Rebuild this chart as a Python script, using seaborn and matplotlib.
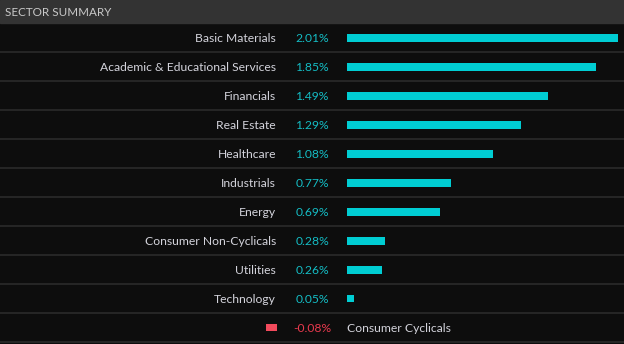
import matplotlib
matplotlib.use("Agg")
import matplotlib.pyplot as plt
import matplotlib.transforms as mtransforms
from matplotlib.patches import Rectangle
from matplotlib.lines import Line2D
import seaborn as sns
import pandas as pd

sectors = [
    "Basic Materials", "Academic & Educational Services", "Financials",
    "Real Estate", "Healthcare", "Industrials", "Energy",
    "Consumer Non-Cyclicals", "Utilities", "Technology", "Consumer Cyclicals",
]
changes = [2.01, 1.85, 1.49, 1.29, 1.08, 0.77, 0.69, 0.28, 0.26, 0.05, -0.08]
title = "SECTOR SUMMARY"

BG = "#0d0d0d"
HEADER = "#333333"
GRID = "#2a2a2a"
UP = "#00cdd3"
UP_TXT = "#14bcc4"
DOWN = "#f24a5c"
DOWN_TXT = "#e8394d"
LABEL = "#d4d4dc"

sns.set_theme(style="dark")
plt.rcParams["font.family"] = ["Lato", "DejaVu Sans"]

W, H = 624, 344
fig = plt.figure(figsize=(W / 100, H / 100), dpi=100, facecolor=BG)

df = pd.DataFrame({"sector": sectors, "change": changes})
pos = df[df.change >= 0]
neg = df[df.change < 0]

px_per_pct = 134.8
top_px, bot_px = 23, 342
fb = (H - bot_px) / H
fh = (bot_px - top_px) / H

# positive bars grow right from a common baseline
x0 = 347
ax = fig.add_axes([x0 / W, fb, (W - x0) / W, fh])
ax.set_facecolor("none")
sns.barplot(data=pos, y="sector", x="change", order=sectors, orient="h",
            color=UP, width=8 / 29, saturation=1, linewidth=0, ax=ax)
ax.set_xlim(0, (W - x0) / px_per_pct)
ax.set_ylim(len(sectors) - 0.5, -0.5)

# negative bars grow left from their own baseline
n0 = 277
nspan = 0.6
axn = fig.add_axes([(n0 - nspan * px_per_pct) / W, fb, nspan * px_per_pct / W, fh])
axn.set_facecolor("none")
sns.barplot(data=neg, y="sector", x="change", order=sectors, orient="h",
            color=DOWN, width=8 / 29, saturation=1, linewidth=0, ax=axn)
axn.set_xlim(-nspan, 0)
axn.set_ylim(len(sectors) - 0.5, -0.5)

for a in (ax, axn):
    a.set_xlabel("")
    a.set_ylabel("")
    a.set_xticks([])
    a.set_yticks([])
    a.grid(False)
    for s in a.spines.values():
        s.set_visible(False)

tr = mtransforms.blended_transform_factory(fig.transFigure, ax.transData)

# header band
fig.patches.append(Rectangle((0, (H - top_px) / H), 1, top_px / H,
                             transform=fig.transFigure, color=HEADER, zorder=0))
fig.text(5 / W, 1 - 12 / H, title, color="#c9c9c9", fontsize=8.4,
         ha="left", va="center")

# row separators
for i in range(len(sectors)):
    fig.lines.append(Line2D([0, 1], [i + 0.5, i + 0.5], transform=tr,
                            color=GRID, lw=1.2))

fs = 8.7
dy = 0.03
for i, (name, val) in enumerate(zip(sectors, changes)):
    txt = f"{val:.2f}%"
    y = i + dy
    if val >= 0:
        fig.text(276 / W, y, name, transform=tr, color=LABEL, fontsize=fs,
                 ha="right", va="center")
        fig.text(312 / W, y, txt, transform=tr, color=UP_TXT, fontsize=fs,
                 ha="center", va="center")
    else:
        fig.text(347 / W, y, name, transform=tr, color=LABEL, fontsize=fs,
                 ha="left", va="center")
        fig.text(312 / W, y, txt, transform=tr, color=DOWN_TXT, fontsize=fs,
                 ha="center", va="center")

fig.savefig("out.png", dpi=100, facecolor=BG)
